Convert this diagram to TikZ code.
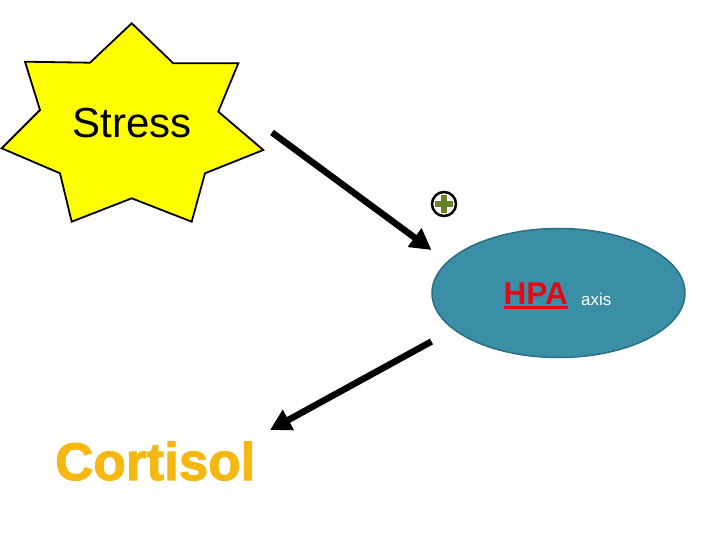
\documentclass[tikz,border=0pt]{standalone}
\usepackage{fontspec}
\setmainfont{Liberation Sans}
\newfontfamily\cortfont[FakeBold=2]{Liberation Sans Bold}
\usetikzlibrary{arrows.meta,shapes.geometric}
\definecolor{staryellow}{RGB}{255,255,0}
\definecolor{hpafill}{RGB}{58,143,166}
\definecolor{hpaedge}{RGB}{42,110,130}
\definecolor{hpared}{RGB}{225,10,20}
\definecolor{plusgreen}{RGB}{104,128,40}
\definecolor{cortgold}{RGB}{244,184,16}
\tikzset{
  bigarrow/.style={line width=6.5pt, -{Triangle[length=21pt,width=22pt]}},
  starshape/.style={fill=staryellow, draw=black, line width=1.8pt, line join=miter},
}
\begin{document}
\begin{tikzpicture}[x=1pt,y=-1pt]
\useasboundingbox (0,0) rectangle (720,540);
% star
\draw[starshape] (131.7,23.3) -- (173.3,63.3) -- (238.3,63.3) -- (218.3,111.7)
  -- (263.3,150) -- (205,173.3) -- (191.7,221.7) -- (131.7,198.3) -- (71.7,221.7)
  -- (60,173.3) -- (1.7,148.3) -- (40,110) -- (25,61.7) -- (90,62.7) -- cycle;
\node (stress) at (132,123) {\fontsize{42}{42}\selectfont Stress};
% HPA ellipse
\node[ellipse, fill=hpafill, draw=hpaedge, line width=1.5pt,
      minimum width=253pt, minimum height=129pt, inner sep=0pt] (hpa) at (558.5,293) {};
\node[anchor=base west, inner sep=0pt, text=hpared] (hpatext) at (503.5,304.5)
  {\fontsize{31.5}{31.5}\selectfont\bfseries HPA};
\draw[hpared, line width=3pt] ([yshift=-3pt]hpatext.base west) -- ([yshift=-3pt]hpatext.base east);
\node[anchor=base west, inner sep=0pt, text=white] (axis) at (581,305)
  {\fontsize{17}{17}\selectfont axis};
% plus sign
\node[circle, draw=black, line width=2.5pt, minimum size=24pt, inner sep=0pt] (plus) at (444,204) {};
\draw[plusgreen, line width=5.5pt] (plus.center) ++(-9,0) -- ++(18,0);
\draw[plusgreen, line width=5.5pt] (plus.center) ++(0,-9) -- ++(0,18);
% Cortisol
\node[anchor=base west, inner sep=0pt, text=cortgold] (cortisol) at (55,480)
  {\fontsize{53}{53}\cortfont Cortisol};
% arrows
\coordinate (a1s) at (272,132.5);
\coordinate (a1e) at (431.5,250);
\coordinate (a2s) at (431.5,341.5);
\coordinate (a2e) at (270,430);
\draw[bigarrow] (a1s) -- (a1e);
\draw[bigarrow] (a2s) -- (a2e);
\end{tikzpicture}
\end{document}
